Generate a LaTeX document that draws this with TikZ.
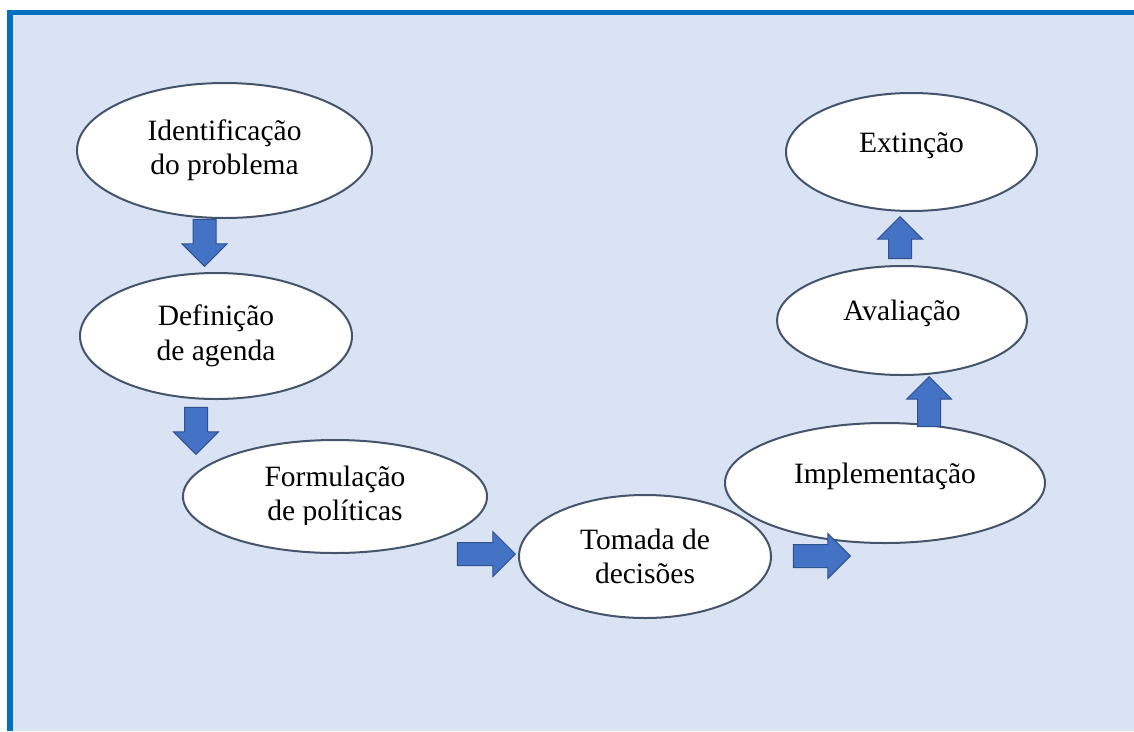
\documentclass[tikz,border=0pt]{standalone}
\usepackage{fontspec}
\setmainfont{Liberation Serif}[Ligatures=NoCommon]
\usetikzlibrary{shapes.geometric,shapes.arrows}
\definecolor{pagebg}{HTML}{DAE3F3}
\definecolor{frameblue}{HTML}{0070C0}
\definecolor{stageline}{HTML}{44546A}
\definecolor{arrowfill}{HTML}{4472C4}
\definecolor{arrowline}{HTML}{2F528F}
\begin{document}
\begin{tikzpicture}[x=1pt,y=-1pt,
  stagetext/.style={align=center,font=\fontsize{29.5}{34.5}\selectfont},
  stage/.style={stagetext,draw=stageline,fill=white,ellipse,line width=2pt,inner sep=0pt},
  oneline/.style={text height=21pt,text depth=21pt},
  blockarrow/.style={single arrow,draw=arrowline,fill=arrowfill,line width=1pt,inner xsep=0pt,
    inner ysep=11pt,single arrow head extend=11pt,anchor=tip}]
\useasboundingbox (0,0) rectangle (1134,731);
\fill[white] (0,0) rectangle (1134,731);
\fill[pagebg] (13,15) rectangle (1134,731);
\fill[frameblue] (7,10) rectangle (1134,15);
\fill[frameblue] (7,10) rectangle (13,731);
% etapas
\node[stage,minimum width=295pt,minimum height=135pt] (ident) at (224.5,150.5) {Identificação\\do problema};
\node[stage,minimum width=272pt,minimum height=126pt] (agenda) at (216,336) {Definição\\de agenda};
\node[stage,minimum width=304pt,minimum height=113pt] (form) at (335,496.5) {};
\begin{scope}
\clip (183,440) rectangle (487,524);
\node[stagetext] (formtext) at (form.center) {Formulação\\de políticas};
\end{scope}
\node[stage,minimum width=252pt,minimum height=123pt] (toma) at (645,556.5) {Tomada de\\decisões};
\node[stage,oneline,minimum width=320pt,minimum height=120pt] (impl) at (885,483) {Implementação};
\node[stage,oneline,minimum width=250pt,minimum height=109pt] (aval) at (902,320.5) {Avaliação};
\node[stage,oneline,minimum width=251pt,minimum height=118pt] (ext) at (911.5,152) {Extinção};
% setas
\node[blockarrow,rotate=-90,minimum height=47pt] (a1) at (204.5,267) {};
\node[blockarrow,rotate=-90,minimum height=47pt] (a2) at (196,455) {};
\node[blockarrow,minimum height=58pt] (a3) at (516,554) {};
\node[blockarrow,minimum height=57pt] (a4) at (851,556) {};
\node[blockarrow,rotate=90,minimum height=50pt] (a5) at (929,376) {};
\node[blockarrow,rotate=90,minimum height=42pt] (a6) at (900,216) {};
\end{tikzpicture}
\end{document}
